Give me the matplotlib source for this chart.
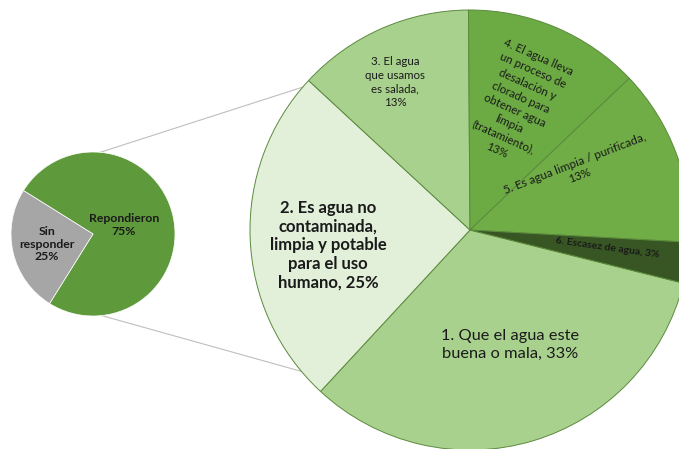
import numpy as np
import matplotlib
matplotlib.use('Agg')
import matplotlib.pyplot as plt

plt.rcParams['font.family'] = ['Lato', 'DejaVu Sans']

# %% data
main_labels = ['Repondieron\n75%', 'Sin\nresponder\n25%']
main_vals = [75, 25]
main_colors = ['#5e9a3b', '#a6a6a6']

sub_labels = ['1. Que el agua este\nbuena o mala, 33%',
              '2. Es agua no\ncontaminada,\nlimpia y potable\npara el uso\nhumano, 25%',
              '3. El agua\nque usamos\nes salada,\n13%',
              '4. El agua lleva\nun proceso de\ndesalación y\nclorado para\nobtener agua\nlimpia\n(tratamiento),\n13%',
              '5. Es agua limpia / purificada,\n13%',
              '6. Escasez de agua, 3%']
sub_vals = [33, 25, 13, 13, 13, 3]
sub_colors = ['#a9d18e', '#e2efd9', '#a9d18e', '#6cab43', '#70ad47', '#375623']

# %% figure in pixel coordinates
fig = plt.figure(figsize=(6.79, 4.49), dpi=100)
ax = fig.add_axes([0, 0, 1, 1])

# small pie
c_small = (93, 215)
r_small = 82
ax.pie(main_vals, colors=main_colors, startangle=-122, counterclock=True,
       center=c_small, radius=r_small, frame=True,
       wedgeprops=dict(edgecolor='white', linewidth=0.5))

# big pie
c_big = (470, 219)
r_big = 220
ax.pie(sub_vals, colors=sub_colors, startangle=-14, counterclock=False,
       center=c_big, radius=r_big, frame=True,
       wedgeprops=dict(edgecolor='#5b8a3d', linewidth=0.7))
ax.set_xlim(0, 679)
ax.set_ylim(0, 449)
ax.set_aspect('equal')
ax.axis('off')

# connector lines
a1, a2 = np.deg2rad(85), np.deg2rad(-84)
b1, b2 = np.deg2rad(139.5), np.deg2rad(-140)
for a, b in [(a1, b1), (a2, b2)]:
    ax.plot([c_small[0] + r_small*np.cos(a), c_big[0] + r_big*np.cos(b)],
            [c_small[1] + r_small*np.sin(a), c_big[1] + r_big*np.sin(b)],
            color='#bfbfbf', lw=0.8, zorder=0)

# labels small pie
ax.text(124, 449-225, main_labels[0], ha='center', va='center', fontsize=8.8,
        fontweight='bold', color='#1a1a1a', linespacing=1.2)
ax.text(47, 449-244, main_labels[1], ha='center', va='center', fontsize=8.8,
        fontweight='bold', color='#1a1a1a', linespacing=1.2)

# labels big pie
ax.text(510, 449-345, sub_labels[0], ha='center', va='center', fontsize=11.8,
        color='#1a1a1a', linespacing=1.35)
ax.text(328, 449-245, sub_labels[1], ha='center', va='center', fontsize=12,
        fontweight='bold', color='#1a1a1a', linespacing=1.2)
ax.text(395, 449-82, sub_labels[2], ha='center', va='center', fontsize=8.3,
        color='#1a1a1a', linespacing=1.3)
ax.text(518, 449-104, sub_labels[3], ha='center', va='center', fontsize=8.3,
        color='#1a1a1a', linespacing=1.4, rotation=-24, rotation_mode='anchor')
ax.text(577, 449-170, sub_labels[4], ha='center', va='center', fontsize=8.5,
        color='#1a1a1a', linespacing=1.2, rotation=21, rotation_mode='anchor')
ax.text(607, 449-248, sub_labels[5], ha='center', va='center', fontsize=7.5,
        fontweight='bold', color='#1a1a1a', rotation=-8, rotation_mode='anchor')

fig.savefig('out.png', dpi=100)
